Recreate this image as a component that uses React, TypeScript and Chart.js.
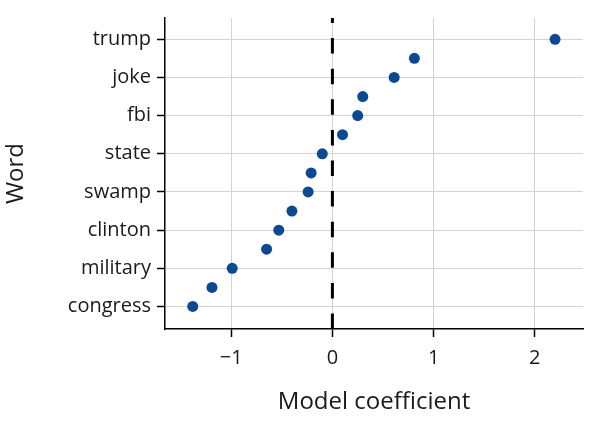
import { useEffect, useRef } from "react";
import { Chart, registerables } from "chart.js";

Chart.register(...registerables);

// Rows from top to bottom; only every other word is labelled in the figure
const words = [
  "trump", "", "joke", "", "fbi", "", "state", "",
  "swamp", "", "clinton", "", "military", "", "congress",
];
const coefficients = [
  2.2, 0.81, 0.61, 0.3, 0.25, 0.1, -0.1, -0.21,
  -0.24, -0.4, -0.53, -0.65, -0.99, -1.19, -1.38,
];
const xTickValues = [-1, 0, 1, 2];
const yTickRows = [0, 2, 4, 6, 8, 10, 12, 14];

const FONT = "'Open Sans', 'Noto Sans', sans-serif";
const TEXT = "#1a1a1a";

const zeroLine = {
  id: "zeroLine",
  beforeDatasetsDraw(chart: any) {
    const { ctx, chartArea, scales } = chart;
    const x = scales.x.getPixelForValue(0);
    ctx.save();
    ctx.strokeStyle = "#000";
    ctx.lineWidth = 3;
    ctx.lineCap = "butt";
    ctx.setLineDash([15.5, 15.1]);
    ctx.beginPath();
    ctx.moveTo(x, chartArea.bottom);
    ctx.lineTo(x, chartArea.top);
    ctx.stroke();
    ctx.restore();
  },
};

export default function App() {
  const ref = useRef<HTMLCanvasElement>(null);

  useEffect(() => {
    if (!ref.current) return;
    const chart = new Chart(ref.current, {
      type: "scatter",
      data: {
        datasets: [
          {
            data: coefficients.map((c, i) => ({ x: c, y: i })),
            backgroundColor: "#0b4a91",
            borderWidth: 0,
            pointRadius: 5.5,
            pointHoverRadius: 5.5,
          },
        ],
      },
      options: {
        animation: false,
        responsive: false,
        devicePixelRatio: 1,
        layout: { padding: { top: 18, right: 17, left: 0, bottom: 0 } },
        plugins: { legend: { display: false }, tooltip: { enabled: false } },
        scales: {
          x: {
            type: "linear",
            min: -1.654,
            max: 2.476,
            afterBuildTicks: (scale: any) => {
              scale.ticks = xTickValues.map((v) => ({ value: v }));
            },
            afterFit: (scale: any) => {
              scale.height = 99;
            },
            ticks: {
              padding: 9,
              color: TEXT,
              font: { family: FONT, size: 20 },
              callback: (v: any) => (v < 0 ? "\u2212" + Math.abs(v) : String(v)),
            },
            grid: {
              color: "#d3d3d3",
              lineWidth: 1,
              tickColor: "#000",
              tickLength: 8,
              tickWidth: 1.5,
            },
            border: { display: true, color: "#000", width: 1.5 },
            title: {
              display: true,
              text: "Model coefficient",
              color: TEXT,
              font: { family: FONT, size: 24 },
              padding: { top: 0, bottom: 11 },
            },
          },
          y: {
            type: "linear",
            reverse: true,
            min: -1.115,
            max: 15.18,
            afterBuildTicks: (scale: any) => {
              scale.ticks = yTickRows.map((v) => ({ value: v }));
            },
            afterFit: (scale: any) => {
              scale.width = 165;
            },
            ticks: {
              padding: 6,
              color: TEXT,
              font: { family: FONT, size: 20 },
              callback: (v: any) => words[v] ?? "",
            },
            grid: {
              color: "#d3d3d3",
              lineWidth: 1,
              tickColor: "#000",
              tickLength: 8,
              tickWidth: 1.5,
            },
            border: { display: true, color: "#000", width: 1.5 },
            title: {
              display: true,
              text: "Word",
              color: TEXT,
              font: { family: FONT, size: 24 },
              padding: { top: 2, bottom: 0 },
            },
          },
        },
      },
      plugins: [zeroLine],
    });
    return () => chart.destroy();
  }, []);

  return (
    <div style={{ position: "fixed", left: 0, top: 0, width: 600, height: 428, background: "#fff" }}>
      <canvas ref={ref} width={600} height={428} style={{ width: 600, height: 428 }} />
    </div>
  );
}
